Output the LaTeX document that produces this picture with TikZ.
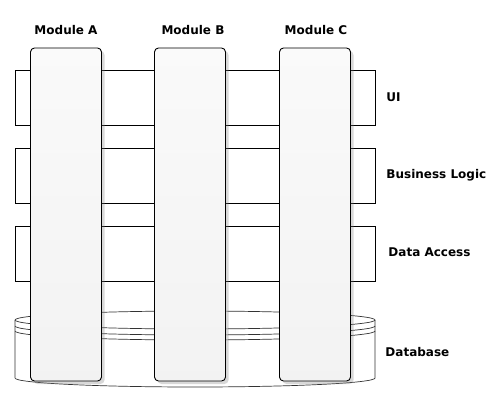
\documentclass[tikz,border=0pt]{standalone}
\usepackage{fontspec}
\setmainfont{DejaVu Sans}
\usetikzlibrary{positioning,shadows}

\begin{document}
\begin{tikzpicture}[x=1pt,y=-1pt,line width=0.9pt,
                    font=\fontsize{12}{14}\selectfont\bfseries]
  \tikzset{layer/.style={draw,minimum width=360pt,minimum height=55pt,inner sep=0pt},
           module/.style={draw,rounded corners=4pt,minimum width=71pt,minimum height=333pt,
                          inner sep=0pt,top color=black!2,bottom color=black!5,
                          drop shadow={shadow xshift=3pt,shadow yshift=-3pt,opacity=0.3}},
           dbline/.style={draw=black!80,line width=0.7pt},
           title/.style={inner sep=0pt},
           side/.style={anchor=west,inner sep=0pt}}
  \useasboundingbox (0,0) rectangle (502,403);

  % layers
  \node[layer] (ui) at (195,97.5)  {};
  \node[layer] (bl) at (195,175.5) {};
  \node[layer] (da) at (195,253.5) {};

  % database cylinder
  \coordinate (dbl) at (15,320);
  \coordinate (dbr) at (375,320);
  \path[dbline,fill=white] (dbl) -- (15,378) arc[start angle=180,end angle=360,x radius=180pt,y radius=9pt]
                    -- (dbr) arc[start angle=0,end angle=180,x radius=180pt,y radius=9pt] -- cycle;
  \path[dbline] (dbl) arc[start angle=180,end angle=360,x radius=180pt,y radius=9pt];
  \path[dbline] (15,326) arc[start angle=180,end angle=360,x radius=180pt,y radius=9pt];
  \path[dbline] (15,331) arc[start angle=180,end angle=360,x radius=180pt,y radius=9pt];

  % modules
  \node[module] (A) at (66,214.5)  {};
  \node[module] (B) at (190,214.5) {};
  \node[module] (C) at (315,214.5) {};
  \node[title] (tA) at (66,30)  {Module A};
  \node[title] (tB) at (193,30) {Module B};
  \node[title] (tC) at (316,30) {Module C};

  % layer names
  \node[side] (lui) at (386,97)  {UI};
  \node[side] (lbl) at (386,175) {Business Logic};
  \node[side] (lda) at (388,252) {Data Access};
  \node[side] (ldb) at (385,352) {Database};
\end{tikzpicture}
\end{document}
